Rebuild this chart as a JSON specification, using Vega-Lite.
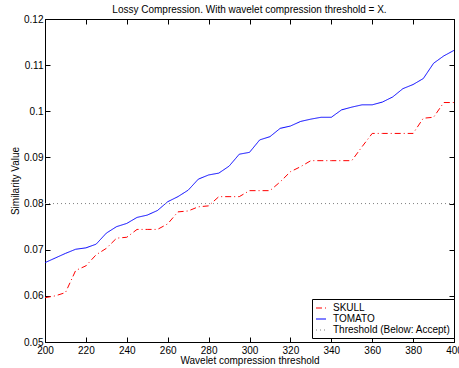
{
  "$schema": "https://vega.github.io/schema/vega-lite/v6.json",
  "width": 409,
  "height": 323,
  "autosize": {"type": "none"},
  "padding": {"left": 45, "top": 19, "right": 5, "bottom": 26},
  "background": "white",
  "title": {
    "text": "Lossy Compression. With wavelet compression threshold = X.",
    "fontSize": 10,
    "fontWeight": "normal",
    "color": "black",
    "anchor": "middle",
    "offset": -1
  },
  "datasets": {
    "curves": [
      {"x": 200, "value": 0.0596, "series": "SKULL"},
      {"x": 205, "value": 0.0600, "series": "SKULL"},
      {"x": 210, "value": 0.0607, "series": "SKULL"},
      {"x": 215, "value": 0.0655, "series": "SKULL"},
      {"x": 220, "value": 0.0665, "series": "SKULL"},
      {"x": 225, "value": 0.0689, "series": "SKULL"},
      {"x": 230, "value": 0.0703, "series": "SKULL"},
      {"x": 235, "value": 0.0725, "series": "SKULL"},
      {"x": 240, "value": 0.0727, "series": "SKULL"},
      {"x": 245, "value": 0.0744, "series": "SKULL"},
      {"x": 250, "value": 0.0744, "series": "SKULL"},
      {"x": 255, "value": 0.0744, "series": "SKULL"},
      {"x": 260, "value": 0.0756, "series": "SKULL"},
      {"x": 265, "value": 0.0782, "series": "SKULL"},
      {"x": 270, "value": 0.0784, "series": "SKULL"},
      {"x": 275, "value": 0.0793, "series": "SKULL"},
      {"x": 280, "value": 0.0795, "series": "SKULL"},
      {"x": 285, "value": 0.0815, "series": "SKULL"},
      {"x": 290, "value": 0.0815, "series": "SKULL"},
      {"x": 295, "value": 0.0815, "series": "SKULL"},
      {"x": 300, "value": 0.0828, "series": "SKULL"},
      {"x": 305, "value": 0.0828, "series": "SKULL"},
      {"x": 310, "value": 0.0828, "series": "SKULL"},
      {"x": 315, "value": 0.0847, "series": "SKULL"},
      {"x": 320, "value": 0.0869, "series": "SKULL"},
      {"x": 325, "value": 0.0880, "series": "SKULL"},
      {"x": 330, "value": 0.0893, "series": "SKULL"},
      {"x": 335, "value": 0.0893, "series": "SKULL"},
      {"x": 340, "value": 0.0893, "series": "SKULL"},
      {"x": 345, "value": 0.0893, "series": "SKULL"},
      {"x": 350, "value": 0.0893, "series": "SKULL"},
      {"x": 355, "value": 0.0923, "series": "SKULL"},
      {"x": 360, "value": 0.0952, "series": "SKULL"},
      {"x": 365, "value": 0.0952, "series": "SKULL"},
      {"x": 370, "value": 0.0952, "series": "SKULL"},
      {"x": 375, "value": 0.0952, "series": "SKULL"},
      {"x": 380, "value": 0.0952, "series": "SKULL"},
      {"x": 385, "value": 0.0985, "series": "SKULL"},
      {"x": 390, "value": 0.0987, "series": "SKULL"},
      {"x": 395, "value": 0.1019, "series": "SKULL"},
      {"x": 400, "value": 0.1019, "series": "SKULL"},
      {"x": 200, "value": 0.0672, "series": "TOMATO"},
      {"x": 205, "value": 0.0682, "series": "TOMATO"},
      {"x": 210, "value": 0.0692, "series": "TOMATO"},
      {"x": 215, "value": 0.0701, "series": "TOMATO"},
      {"x": 220, "value": 0.0704, "series": "TOMATO"},
      {"x": 225, "value": 0.0712, "series": "TOMATO"},
      {"x": 230, "value": 0.0736, "series": "TOMATO"},
      {"x": 235, "value": 0.0750, "series": "TOMATO"},
      {"x": 240, "value": 0.0757, "series": "TOMATO"},
      {"x": 245, "value": 0.0770, "series": "TOMATO"},
      {"x": 250, "value": 0.0775, "series": "TOMATO"},
      {"x": 255, "value": 0.0785, "series": "TOMATO"},
      {"x": 260, "value": 0.0804, "series": "TOMATO"},
      {"x": 265, "value": 0.0815, "series": "TOMATO"},
      {"x": 270, "value": 0.0829, "series": "TOMATO"},
      {"x": 275, "value": 0.0853, "series": "TOMATO"},
      {"x": 280, "value": 0.0862, "series": "TOMATO"},
      {"x": 285, "value": 0.0866, "series": "TOMATO"},
      {"x": 290, "value": 0.0881, "series": "TOMATO"},
      {"x": 295, "value": 0.0907, "series": "TOMATO"},
      {"x": 300, "value": 0.0911, "series": "TOMATO"},
      {"x": 305, "value": 0.0938, "series": "TOMATO"},
      {"x": 310, "value": 0.0945, "series": "TOMATO"},
      {"x": 315, "value": 0.0963, "series": "TOMATO"},
      {"x": 320, "value": 0.0968, "series": "TOMATO"},
      {"x": 325, "value": 0.0978, "series": "TOMATO"},
      {"x": 330, "value": 0.0983, "series": "TOMATO"},
      {"x": 335, "value": 0.0987, "series": "TOMATO"},
      {"x": 340, "value": 0.0987, "series": "TOMATO"},
      {"x": 345, "value": 0.1003, "series": "TOMATO"},
      {"x": 350, "value": 0.1009, "series": "TOMATO"},
      {"x": 355, "value": 0.1014, "series": "TOMATO"},
      {"x": 360, "value": 0.1014, "series": "TOMATO"},
      {"x": 365, "value": 0.1020, "series": "TOMATO"},
      {"x": 370, "value": 0.1031, "series": "TOMATO"},
      {"x": 375, "value": 0.1049, "series": "TOMATO"},
      {"x": 380, "value": 0.1058, "series": "TOMATO"},
      {"x": 385, "value": 0.1071, "series": "TOMATO"},
      {"x": 390, "value": 0.1104, "series": "TOMATO"},
      {"x": 395, "value": 0.1120, "series": "TOMATO"},
      {"x": 400, "value": 0.1132, "series": "TOMATO"}
    ],
    "threshold": [
      {"x": 200, "value": 0.08, "series": "Threshold (Below: Accept)"},
      {"x": 400, "value": 0.08, "series": "Threshold (Below: Accept)"}
    ]
  },
  "layer": [
    {
      "data": {"name": "curves"},
      "mark": {"type": "line", "strokeWidth": 1, "clip": true},
      "encoding": {
        "x": {
          "field": "x", "type": "quantitative",
          "scale": {"domain": [200, 400], "nice": false, "zero": false},
          "axis": {"orient": "bottom", "title": "Wavelet compression threshold", "values": [200, 220, 240, 260, 280, 300, 320, 340, 360, 380, 400], "titlePadding": 0, "labelFlush": false}
        },
        "y": {
          "field": "value", "type": "quantitative",
          "scale": {"domain": [0.05, 0.12], "nice": false, "zero": false},
          "axis": {"orient": "left", "title": "Similarity Value", "values": [0.05, 0.06, 0.07, 0.08, 0.09, 0.1, 0.11, 0.12], "format": "~g", "titlePadding": 3, "labelPadding": 7}
        },
        "color": {
          "field": "series", "type": "nominal",
          "scale": {"domain": ["SKULL", "TOMATO", "Threshold (Below: Accept)"], "range": ["#ff0000", "#0000ff", "#808080"]},
          "legend": {"title": null}
        },
        "strokeDash": {
          "field": "series", "type": "nominal",
          "scale": {"domain": ["SKULL", "TOMATO", "Threshold (Below: Accept)"], "range": [[6, 3, 1, 3], [1, 0], [1, 3]]},
          "legend": {"title": null}
        }
      }
    },
    {
      "data": {"name": "threshold"},
      "mark": {"type": "line", "strokeWidth": 1},
      "encoding": {
        "x": {
          "field": "x", "type": "quantitative",
          "scale": {"domain": [200, 400], "nice": false, "zero": false},
          "axis": {"orient": "top", "title": null, "labels": false, "values": [200, 220, 240, 260, 280, 300, 320, 340, 360, 380, 400]}
        },
        "y": {
          "field": "value", "type": "quantitative",
          "scale": {"domain": [0.05, 0.12], "nice": false, "zero": false},
          "axis": {"orient": "right", "title": null, "labels": false, "values": [0.05, 0.06, 0.07, 0.08, 0.09, 0.1, 0.11, 0.12]}
        },
        "color": {"field": "series", "type": "nominal", "legend": {"title": null}},
        "strokeDash": {"field": "series", "type": "nominal", "legend": {"title": null}}
      }
    }
  ],
  "resolve": {"axis": {"x": "independent", "y": "independent"}},
  "config": {
    "font": "Liberation Sans",
    "view": {"stroke": "black", "strokeWidth": 1},
    "axis": {
      "domainColor": "black",
      "tickColor": "black",
      "labelColor": "black",
      "titleColor": "black",
      "labelFontSize": 10,
      "titleFontSize": 10,
      "titleFontWeight": "normal",
      "grid": false,
      "tickSize": -5,
      "labelPadding": 8
    },
    "legend": {
      "orient": "none",
      "legendX": 267,
      "legendY": 280,
      "strokeColor": "black",
      "fillColor": "white",
      "padding": 3,
      "labelFontSize": 10,
      "labelColor": "black",
      "symbolType": "stroke",
      "symbolSize": 100,
      "symbolStrokeWidth": 1.2,
      "rowPadding": 0,
      "labelOffset": 6
    }
  }
}
